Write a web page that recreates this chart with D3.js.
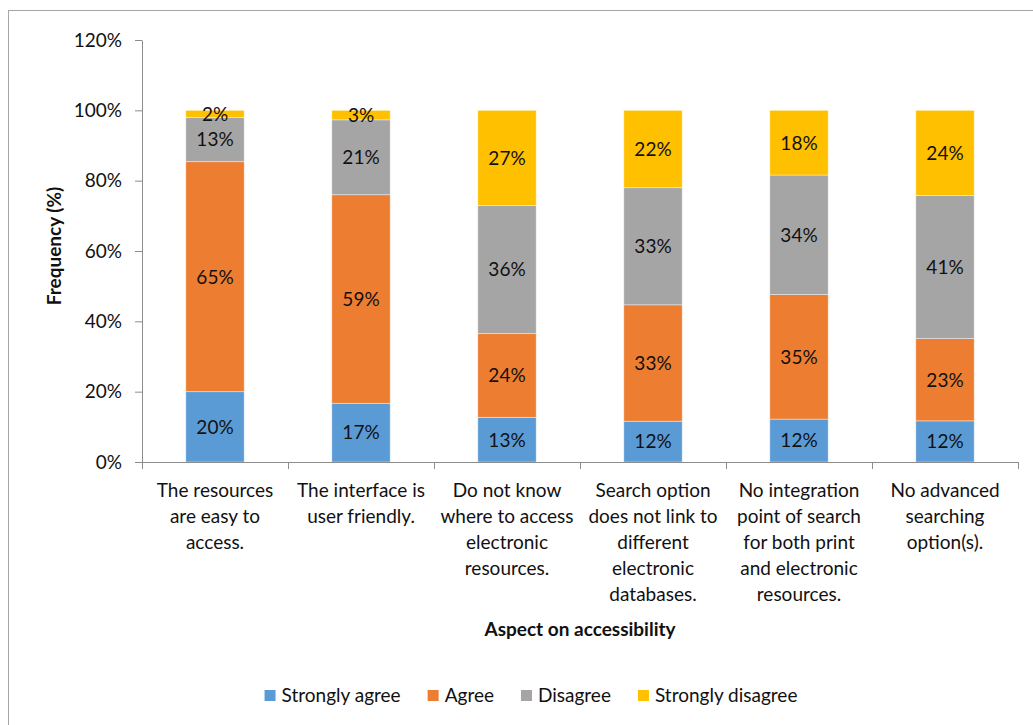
<!DOCTYPE html>
<html>
<head>
<meta charset="utf-8">
<script src="https://cdn.jsdelivr.net/npm/d3@7/dist/d3.min.js"></script>
<style>
  html, body { margin: 0; padding: 0; background: #fff; }
  svg { display: block; font-family: Lato, "Open Sans", sans-serif; }
</style>
</head>
<body>
<svg id="chart" width="1033" height="725"></svg>
<script>
// Survey categories (line breaks as printed under the axis)
const categories = [
  "The resources\nare easy to\naccess.",
  "The interface is\nuser friendly.",
  "Do not know\nwhere to access\nelectronic\nresources.",
  "Search option\ndoes not link to\ndifferent\nelectronic\ndatabases.",
  "No integration\npoint of search\nfor both print\nand electronic\nresources.",
  "No advanced\nsearching\noption(s)."
];
const seriesNames = ["Strongly agree", "Agree", "Disagree", "Strongly disagree"];
const seriesColors = ["#5B9BD5", "#ED7D31", "#A5A5A5", "#FFC000"];

// Share of respondents (%) per answer
const stronglyAgree    = [20.0, 16.7, 12.7, 11.6, 12.2, 11.7];
const agree            = [65.4, 59.3, 23.8, 33.1, 35.4, 23.4];
const disagree         = [12.6, 21.3, 36.4, 33.3, 34.0, 40.7];
const stronglyDisagree = [ 2.0,  2.7, 27.1, 22.0, 18.4, 24.2];
const yTicks = [0, 20, 40, 60, 80, 100, 120];

const seriesValues = [stronglyAgree, agree, disagree, stronglyDisagree];
const rows = categories.map((c, i) => {
  const r = { category: c };
  seriesNames.forEach((s, k) => { r[s] = seriesValues[k][i]; });
  return r;
});

const svg = d3.select("#chart");
const textColor = "#111111";
const axisColor = "#8c8c8c";
const fontSize = 19;

// outer chart frame
svg.append("rect")
  .attr("x", 8.5).attr("y", 10.5)
  .attr("width", 1100).attr("height", 800)
  .attr("fill", "none").attr("stroke", "#a6a6a6").attr("stroke-width", 1);

const plot = { left: 142, right: 1018, top: 40, bottom: 462 };

const x = d3.scaleBand()
  .domain(categories)
  .range([plot.left, plot.right])
  .paddingInner(0.6)
  .paddingOuter(0.3);

const y = d3.scaleLinear()
  .domain([0, 120])
  .range([plot.bottom, plot.top]);

const stack = d3.stack().keys(seriesNames);
const layers = stack(rows);

// bars
const layerG = svg.append("g").selectAll("g")
  .data(layers)
  .join("g")
  .attr("fill", (d, i) => seriesColors[i]);

layerG.selectAll("rect")
  .data(d => d.map(p => ({ p, key: d.key })))
  .join("rect")
  .attr("x", d => x(d.p.data.category))
  .attr("width", x.bandwidth())
  .attr("y", d => y(d.p[1]))
  .attr("height", d => y(d.p[0]) - y(d.p[1]))
  .attr("stroke", "#ffffff")
  .attr("stroke-opacity", 0.5)
  .attr("stroke-width", 0.8);

// value labels
layerG.selectAll("text")
  .data(d => d.map(p => ({ p, key: d.key })))
  .join("text")
  .attr("x", d => x(d.p.data.category) + x.bandwidth() / 2)
  .attr("y", d => y((d.p[0] + d.p[1]) / 2))
  .attr("dy", "0.36em")
  .attr("text-anchor", "middle")
  .attr("fill", textColor)
  .style("font-size", fontSize + "px")
  .text(d => Math.round(d.p.data[d.key]) + "%");

// y axis
const yAxis = svg.append("g")
  .attr("transform", `translate(${plot.left},0)`)
  .call(d3.axisLeft(y).tickValues(yTicks).tickSize(7).tickSizeOuter(0).tickPadding(13)
    .tickFormat(d => d + "%"));
yAxis.select(".domain").attr("stroke", axisColor);
yAxis.selectAll(".tick line").attr("stroke", axisColor);
yAxis.selectAll(".tick text")
  .attr("fill", textColor)
  .style("font-size", fontSize + "px")
  .style("font-family", "Lato, sans-serif");

// x axis baseline and category boundary ticks
const gap = x.step() - x.bandwidth();
const boundaries = categories.map(c => x(c) - gap / 2)
  .concat([x(categories[categories.length - 1]) + x.bandwidth() + gap / 2]);
const xAxis = svg.append("g");
xAxis.append("line")
  .attr("x1", plot.left).attr("x2", boundaries[boundaries.length - 1])
  .attr("y1", plot.bottom + 0.5).attr("y2", plot.bottom + 0.5)
  .attr("stroke", axisColor);
xAxis.selectAll("line.tk")
  .data(boundaries)
  .join("line")
  .attr("class", "tk")
  .attr("x1", d => Math.round(d) + 0.5).attr("x2", d => Math.round(d) + 0.5)
  .attr("y1", plot.bottom).attr("y2", plot.bottom + 7)
  .attr("stroke", axisColor);

// category labels
const catText = svg.append("g").selectAll("text")
  .data(categories)
  .join("text")
  .attr("x", d => x(d) + x.bandwidth() / 2)
  .attr("y", 497)
  .attr("text-anchor", "middle")
  .attr("fill", textColor)
  .style("font-size", fontSize + "px");
catText.selectAll("tspan")
  .data(d => d.split("\n").map(line => ({ line, cx: x(d) + x.bandwidth() / 2 })))
  .join("tspan")
  .attr("x", d => d.cx)
  .attr("dy", (d, i) => i === 0 ? 0 : 26)
  .text(d => d.line);

// axis titles
svg.append("text")
  .attr("x", (plot.left + plot.right) / 2)
  .attr("y", 636)
  .attr("text-anchor", "middle")
  .attr("fill", textColor)
  .style("font-size", fontSize + "px")
  .style("font-weight", "bold")
  .text("Aspect on accessibility");

svg.append("text")
  .attr("transform", `translate(61,246) rotate(-90)`)
  .attr("text-anchor", "middle")
  .attr("fill", textColor)
  .style("font-size", fontSize + "px")
  .style("font-weight", "bold")
  .text("Frequency (%)");

// legend
const legend = svg.append("g");
const items = legend.selectAll("g")
  .data(seriesNames)
  .join("g");
items.append("rect")
  .attr("width", 11).attr("height", 11)
  .attr("y", 690)
  .attr("fill", (d, i) => seriesColors[i]);
items.append("text")
  .attr("x", 17)
  .attr("y", 702)
  .attr("fill", textColor)
  .style("font-size", fontSize + "px")
  .text(d => d);
let widths = [];
items.each(function () {
  widths.push(17 + this.querySelector("text").getComputedTextLength());
});
const itemGap = 27;
const total = d3.sum(widths) + itemGap * (widths.length - 1);
let cursor = 531 - total / 2;
items.attr("transform", (d, i) => {
  const t = `translate(${cursor},0)`;
  cursor += widths[i] + itemGap;
  return t;
});
</script>
</body>
</html>
